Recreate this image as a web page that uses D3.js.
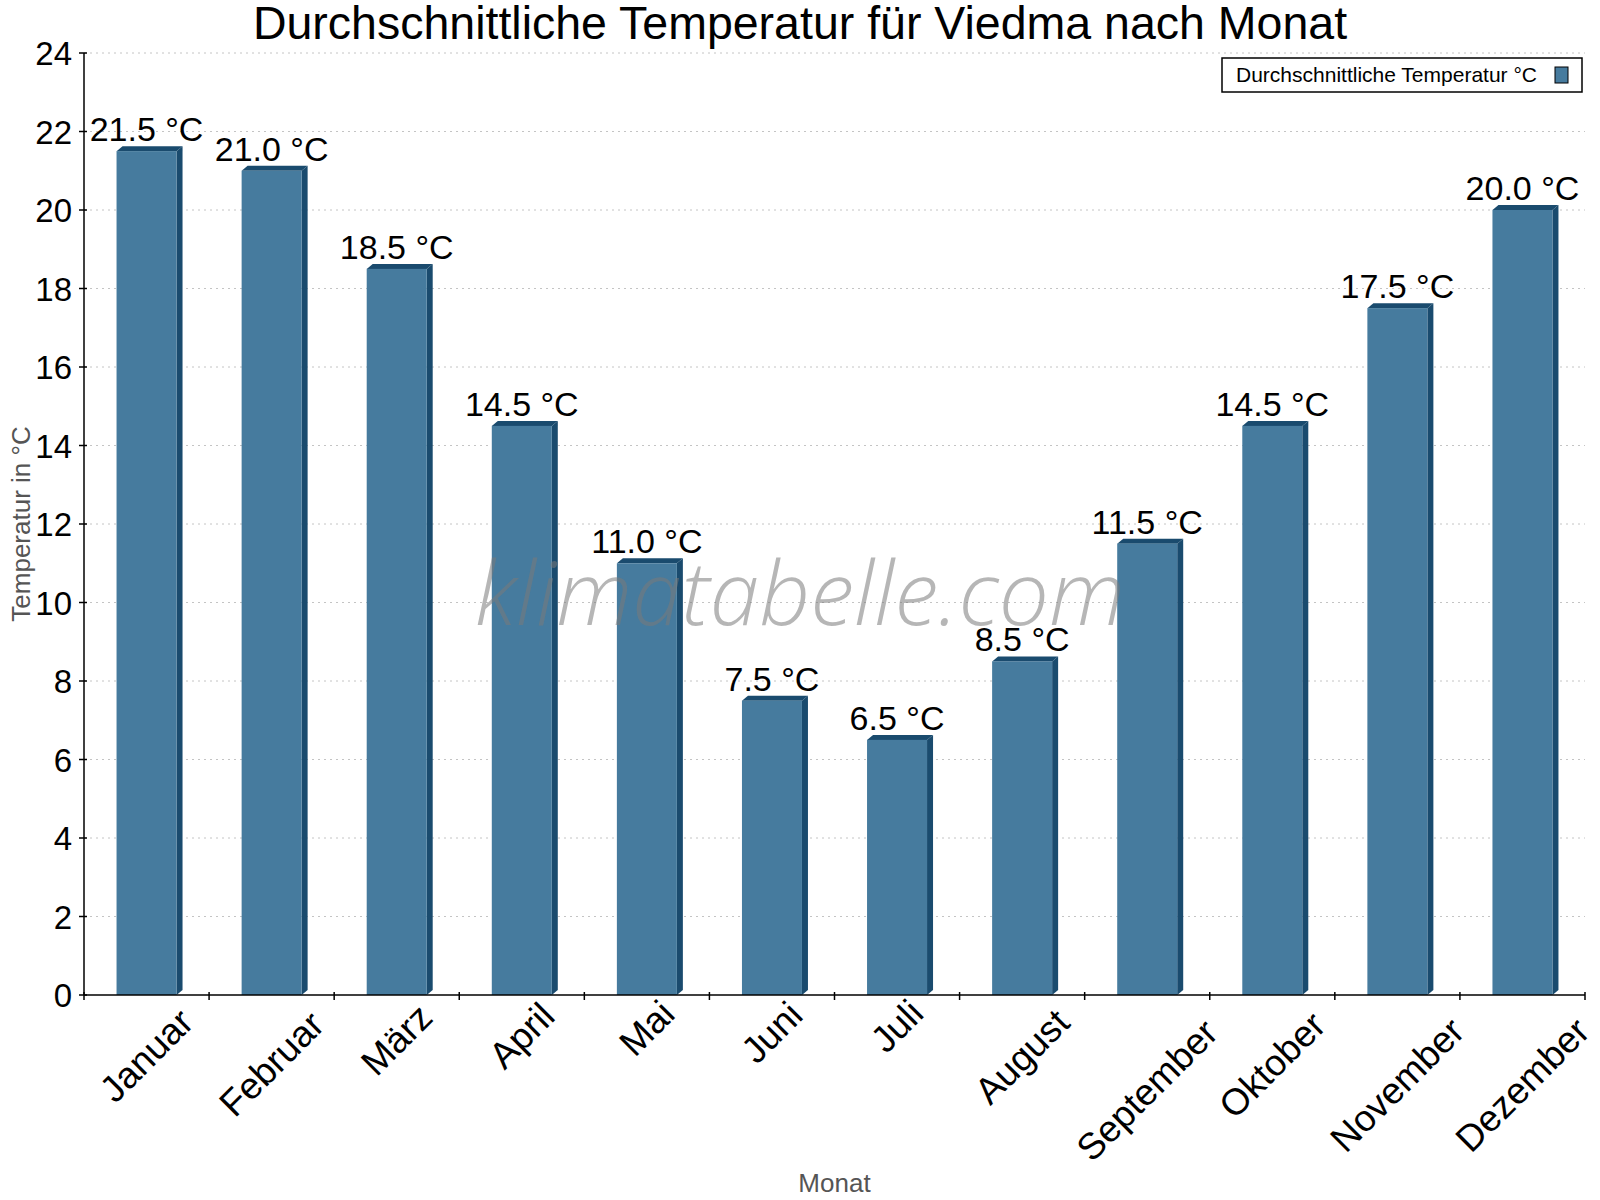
<!DOCTYPE html>
<html><head><meta charset="utf-8">
<script src="https://cdn.jsdelivr.net/npm/d3@7"></script>
<style>body{margin:0;background:#fff}svg{display:block}</style>
</head><body>
<script>
const months = ["Januar","Februar","März","April","Mai","Juni","Juli","August","September","Oktober","November","Dezember"];
const temps = [21.5,21.0,18.5,14.5,11.0,7.5,6.5,8.5,11.5,14.5,17.5,20.0];
const yTicks = [0,2,4,6,8,10,12,14,16,18,20,22,24];
const titleText = "Durchschnittliche Temperatur für Viedma nach Monat";
const legendText = "Durchschnittliche Temperatur °C";
const yTitle = "Temperatur in °C";
const xTitle = "Monat";
const watermark = "klimatabelle.com";

const W = 1600, H = 1200;
const M = {left:84, right:1585, top:53, bottom:995};
const font = "'Liberation Sans', Arial, sans-serif";
const front = "#467b9e", dark = "#1a4b6e";
const dx = 6, dy = 5;

const svg = d3.select("body").append("svg").attr("width", W).attr("height", H)
  .style("font-family", font);

const x = d3.scaleBand().domain(months).range([M.left, M.right]).paddingInner(0).paddingOuter(0);
const y = d3.scaleLinear().domain([0,24]).range([M.bottom, M.top]);

// grid
svg.append("g").selectAll("line").data(yTicks.filter(d=>d>0)).join("line")
  .attr("x1", M.left).attr("x2", M.right)
  .attr("y1", d=>y(d)).attr("y2", d=>y(d))
  .attr("stroke", "#c4c4c4").attr("stroke-width", 1).attr("stroke-dasharray", "2,4");

// bars
const bw = 60;
const bars = svg.append("g").selectAll("g").data(temps).join("g");
bars.each(function(v,i){
  const g = d3.select(this);
  const cx = x(months[i]) + x.bandwidth()/2;
  const x0 = cx - bw/2, x1 = cx + bw/2;
  const yt = y(v), yb = y(0);
  g.append("polygon").attr("points", [[x0,yt],[x0+dx,yt-dy],[x1+dx,yt-dy],[x1,yt]].join(" ")).attr("fill", dark);
  g.append("polygon").attr("points", [[x1,yt],[x1+dx,yt-dy],[x1+dx,yb-dy],[x1,yb]].join(" ")).attr("fill", dark);
  g.append("rect").attr("x", x0).attr("y", yt).attr("width", bw).attr("height", yb-yt).attr("fill", front);
});

// watermark (on top of bars, translucent)
svg.append("text").attr("x", 800).attr("y", 625).attr("text-anchor","middle")
  .style("font-size","89px").style("font-style","italic").style("font-family","'Open Sans', 'Liberation Sans', sans-serif").style("font-weight","300")
  .attr("fill","#7a7a7a").attr("fill-opacity",0.55).text(watermark);

// value labels
svg.append("g").selectAll("text").data(temps).join("text")
  .attr("x", (v,i)=>x(months[i]) + x.bandwidth()/2)
  .attr("y", v=>y(v) - dy - 5).attr("text-anchor","middle")
  .style("font-size","34px").attr("fill","#000").text(v=>v.toFixed(1) + " °C");

// y axis
const yAxis = svg.append("g");
yAxis.append("line").attr("x1",M.left).attr("x2",M.left).attr("y1",M.top).attr("y2",M.bottom).attr("stroke","#000").attr("stroke-width",1.5);
yAxis.selectAll("line.t").data(yTicks).join("line").attr("class","t")
  .attr("x1",M.left-5).attr("x2",M.left+3).attr("y1",d=>y(d)).attr("y2",d=>y(d)).attr("stroke","#000").attr("stroke-width",1.5);
yAxis.selectAll("text").data(yTicks).join("text")
  .attr("x", M.left-12).attr("y", d=>y(d)+12).attr("text-anchor","end")
  .style("font-size","33px").text(d=>d);

// x axis
const xAxis = svg.append("g");
xAxis.append("line").attr("x1",M.left).attr("x2",M.right).attr("y1",M.bottom).attr("y2",M.bottom).attr("stroke","#000").attr("stroke-width",1.5);
const bounds = months.map(m=>x(m)).concat([M.right]);
xAxis.selectAll("line.t").data(bounds).join("line").attr("class","t")
  .attr("x1",d=>d).attr("x2",d=>d).attr("y1",M.bottom-3).attr("y2",M.bottom+5).attr("stroke","#000").attr("stroke-width",1.5);
xAxis.selectAll("text").data(months).join("text")
  .attr("text-anchor","middle").attr("dominant-baseline","central")
  .style("font-size","37px").text(d=>d)
  .each(function(d){
    const L = this.getComputedTextLength();
    const cx = x(d) + x.bandwidth()/2;
    const cy = 998 + 0.51*L;
    d3.select(this).attr("x",cx).attr("y",cy).attr("transform",`rotate(-45,${cx},${cy})`);
  });

// titles
svg.append("text").attr("x",800).attr("y",39).attr("text-anchor","middle")
  .style("font-size","46.5px").text(titleText);
svg.append("text").attr("transform",`translate(30,${(M.top+M.bottom)/2}) rotate(-90)`).attr("text-anchor","middle")
  .style("font-size","26px").attr("fill","#555").text(yTitle);
svg.append("text").attr("x",(M.left+M.right)/2).attr("y",1192).attr("text-anchor","middle")
  .style("font-size","26px").attr("fill","#555").text(xTitle);

// legend
const lg = svg.append("g");
lg.append("rect").attr("x",1222).attr("y",58).attr("width",360).attr("height",34).attr("fill","#fff").attr("stroke","#000").attr("stroke-width",1.5);
lg.append("text").attr("x",1236).attr("y",82).style("font-size","21px").text(legendText);
lg.append("rect").attr("x",1555).attr("y",67).attr("width",13).attr("height",16).attr("fill",front).attr("stroke","#000").attr("stroke-width",1);
</script>
</body></html>
